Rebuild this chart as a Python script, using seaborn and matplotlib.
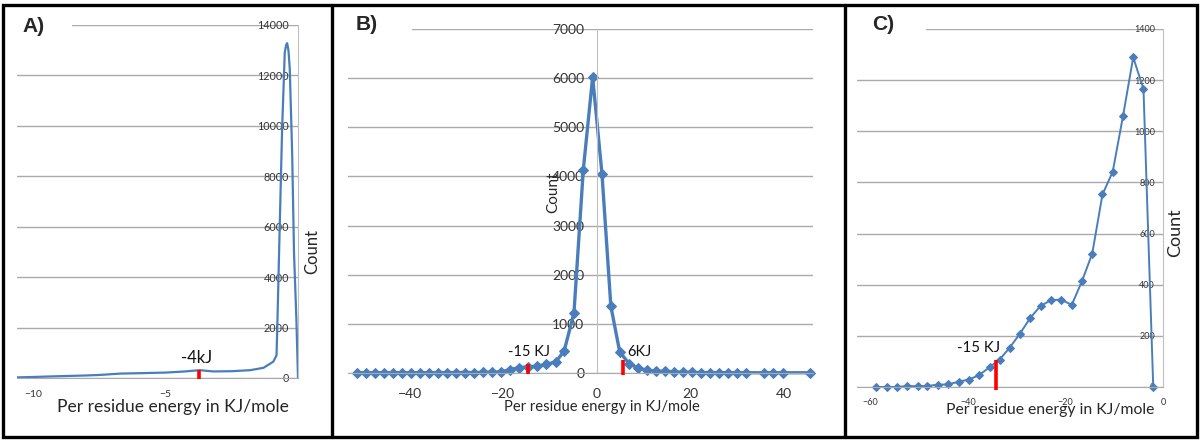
import matplotlib
matplotlib.use("Agg")
import matplotlib.pyplot as plt
import seaborn as sns

# Panel A: smoothed distribution, energies in KJ/mole
energy_a = [-10.6, -10.0, -9.4, -8.7, -8.0, -7.5, -6.7, -6.0, -5.6, -5.0, -4.3, -3.7,
            -3.2, -2.5, -1.8, -1.3, -0.93, -0.81, -0.78, -0.69, -0.6, -0.5, -0.45,
            -0.41, -0.36, -0.31, -0.22, -0.15, -0.06, 0.0]
count_a = [25, 40, 60, 80, 100, 120, 175, 190, 200, 215, 257, 310,
           260, 270, 310, 405, 650, 900, 2050, 6000, 9840, 12900, 13200,
           13280, 13000, 12250, 8900, 4950, 2300, 0]

# Panel B
energy_b = [-51.3, -49.4, -47.5, -45.6, -43.7, -41.7, -39.8, -37.9, -36.0, -34.0,
            -32.1, -30.2, -28.3, -26.3, -24.4, -22.4, -20.5, -18.6, -16.7, -14.7,
            -12.8, -10.9, -8.8, -7.0, -4.9, -2.9, -0.9, 1.1, 3.0, 4.9, 6.9, 8.8,
            10.8, 12.7, 14.6, 16.5, 18.5, 20.4, 22.4, 24.3, 26.2, 28.2, 30.1, 32.0,
            35.8, 37.8, 39.8, 45.6]
count_b = [5, 5, 5, 5, 5, 8, 5, 8, 5, 5,
           8, 10, 10, 10, 12, 15, 25, 68, 109, 125,
           136, 177, 224, 449, 1224, 4136, 6020, 4054, 1360, 429, 190, 102,
           54, 40, 35, 25, 15, 12, 10, 8, 8, 6, 5, 5,
           5, 5, 5, 5]

# Panel C
energy_c = [-58.8, -56.6, -54.5, -52.5, -50.3, -48.3, -46.2, -44.0, -41.9, -39.8,
            -37.7, -35.5, -33.5, -31.4, -29.3, -27.2, -25.1, -23.0, -20.9, -18.7,
            -16.6, -14.5, -12.4, -10.3, -8.2, -6.1, -4.0, -2.0]
count_c = [0, 0, 0, 4, 3, 4, 9, 10, 21, 29,
           46, 78, 107, 154, 209, 270, 317, 339, 342, 321,
           414, 522, 753, 842, 1059, 1289, 1165, 0]

# red cut-off markers: (energy, height, text, text_x, text_y)
cuts_a = [(-3.72, 310, "-4kJ", -3.82, 790)]
cuts_b = [(-14.7, 190, "-15 KJ", -14.6, 430), (5.6, 265, "6KJ", 9.2, 430)]
cuts_c = [(-34.3, 105, "-15 KJ", -37.7, 152)]

yticks_a = [0, 2000, 4000, 6000, 8000, 10000, 12000, 14000]
yticks_b = [0, 1000, 2000, 3000, 4000, 5000, 6000, 7000]
yticks_c = [0, 200, 400, 600, 800, 1000, 1200, 1400]
xticks_a = [-10, -5]
xticks_b = [-40, -20, 0, 20, 40]
xticks_c = [-60, -40, -20, 0]

XLABEL = "Per residue energy in KJ/mole"

sns.set_style("white")
plt.rcParams["font.family"] = ["Lato", "DejaVu Sans"]

BLUE = "#4a7ebb"
GRID = "#aaaaaa"
AXIS = "#c0c0c0"
TICK = "#333333"

W, H = 1200, 442
fig = plt.figure(figsize=(12, 4.42), dpi=100)


def px_axes(left, top, right, bottom):
    return fig.add_axes([left / W, 1 - bottom / H, (right - left) / W, (bottom - top) / H])


def grid(ax, ticks, top_start):
    for t in ticks[:-1]:
        ax.axhline(t, color=GRID, lw=1, zorder=0)
    ax.axhline(ticks[-1], xmin=top_start, color=GRID, lw=1, zorder=0)


def cut_marks(ax, cuts, fs):
    for x, h, txt, tx, ty in cuts:
        ax.plot([x, x], [-h * 0.12, h], color="red", lw=2.6, solid_capstyle="butt",
                clip_on=False, zorder=5)
        ax.text(tx, ty, txt, ha="center", va="center", fontsize=fs, color="#111111")


def right_ticks(ax, ticks, pad, size):
    ax.yaxis.tick_right()
    ax.set_yticks(ticks, [str(t) for t in ticks])
    ax.tick_params(axis="y", length=0, pad=-pad, labelsize=size, labelcolor=TICK)
    plt.setp(ax.get_yticklabels(), ha="right")


# ---- Panel A
ax = px_axes(17, 25, 298, 378)
sns.lineplot(x=energy_a, y=count_a, ax=ax, color=BLUE, lw=1.6, sort=False)
ax.set_xlim(-10.6, 0)
ax.set_ylim(0, 14000)
grid(ax, yticks_a, 0.196)
right_ticks(ax, yticks_a, 6.5, 7.8)
ax.set_xticks(xticks_a)
ax.tick_params(axis="x", length=0, pad=8.5, labelsize=7.5, labelcolor=TICK)
for s in ["top", "left"]:
    ax.spines[s].set_visible(False)
ax.spines["bottom"].set_color(GRID)
ax.spines["right"].set_color(AXIS)
ax.set_xlabel(XLABEL, fontsize=12.6)
ax.xaxis.label.set_va("center")
ax.xaxis.set_label_coords(0.555, -0.082)
ax.set_ylabel("Count", fontsize=12)
ax.yaxis.set_label_position("right")
ax.yaxis.label.set_va("center")
ax.yaxis.set_label_coords(1.05, 0.357)
cut_marks(ax, cuts_a, 12)

# ---- Panel B
ax = px_axes(348, 29, 813, 373)
sns.lineplot(x=energy_b, y=count_b, ax=ax, color=BLUE, lw=2.4, marker="D",
             markersize=5.5, markeredgecolor=BLUE, clip_on=False, sort=False)
ax.set_xlim(-53.3, 46.3)
ax.set_ylim(0, 7000)
grid(ax, yticks_b, 0.138)
ax.set_yticks(yticks_b)
ax.set_xticks(xticks_b)
ax.spines["left"].set_position(("data", 0))
ax.spines["left"].set_color(AXIS)
ax.spines["bottom"].set_color(GRID)
for s in ["top", "right"]:
    ax.spines[s].set_visible(False)
ax.tick_params(axis="y", length=0, pad=9, labelsize=10, labelcolor=TICK)
ax.tick_params(axis="x", length=0, pad=11, labelsize=10, labelcolor=TICK)
ax.set_xlabel(XLABEL, fontsize=10.6)
ax.xaxis.label.set_va("center")
ax.xaxis.set_label_coords(0.546, -0.099)
ax.set_ylabel("Count", fontsize=11)
ax.yaxis.label.set_va("center")
ax.yaxis.set_label_coords(0.441, 0.526)
cut_marks(ax, cuts_b, 10.5)

# ---- Panel C
ax = px_axes(857, 29, 1163, 387)
sns.lineplot(x=energy_c, y=count_c, ax=ax, color=BLUE, lw=1.4, marker="D",
             markersize=4.5, markeredgecolor=BLUE, clip_on=False, sort=False)
ax.set_xlim(-62.7, 0)
ax.set_ylim(0, 1400)
grid(ax, yticks_c, 0.225)
right_ticks(ax, yticks_c, 5.8, 6.5)
ax.set_xticks(xticks_c)
ax.tick_params(axis="x", length=0, pad=8, labelsize=6.5, labelcolor=TICK)
for s in ["top", "left"]:
    ax.spines[s].set_visible(False)
ax.spines["bottom"].set_color(GRID)
ax.spines["right"].set_color(AXIS)
ax.set_xlabel(XLABEL, fontsize=11.3)
ax.xaxis.label.set_va("center")
ax.xaxis.set_label_coords(0.63, -0.064)
ax.set_ylabel("Count", fontsize=13)
ax.yaxis.set_label_position("right")
ax.yaxis.label.set_va("center")
ax.yaxis.set_label_coords(1.039, 0.43)
cut_marks(ax, cuts_c, 10.8)

# panel letters
for x, y, lab in [(34, 27, "A)"), (367, 25, "B)"), (883, 25, "C)")]:
    fig.text(x / W, 1 - y / H, lab, ha="center", va="center", fontsize=15,
             fontweight="bold", family=["Liberation Sans", "DejaVu Sans"])

# panel frames
fig.add_artist(plt.Rectangle((3 / W, 5 / H), 1194 / W, 432 / H, transform=fig.transFigure,
                             fill=False, lw=2.4, ec="black"))
for xd in [332, 845]:
    fig.add_artist(plt.Line2D([xd / W, xd / W], [5 / H, 437 / H], transform=fig.transFigure,
                              color="black", lw=2.4))

fig.savefig("out.png", dpi=100, facecolor="white")
